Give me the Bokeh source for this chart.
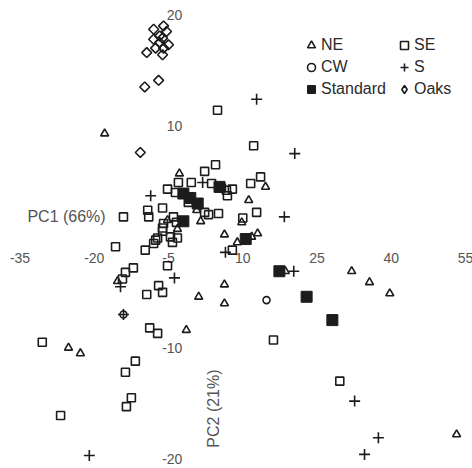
from bokeh.plotting import figure
from bokeh.models import Legend, LegendItem, ColumnDataSource
from bokeh.core.properties import value
from bokeh.embed import file_html
from bokeh.resources import INLINE
import math

# ---- data (PC1, PC2 scores) ----
ne_x = [-17.9, -2.8, 0.7, 1.5, -5.2, -3.2, 6.3, 8.9, 11.8, 13.0, 11.2, 14.6, 9.8,
        18.6, 32.0, 35.6, 39.7, 53.2, 6.3, 6.3, 1.1, -1.4, -15.3, -25.2, -22.8]
ne_y = [9.3, 5.7, 2.4, 1.4, 1.5, 0.7, 0.2, -0.5, 0.0, 0.3, 3.3, 4.5, 1.3,
        -3.1, -3.1, -4.1, -5.1, -17.8, -4.3, -6.0, -5.4, -8.4, -4.0, -10.0, -10.5]

se_x = [4.9, 12.2, 4.5, 2.3, 13.6, -3.0, -0.4, 3.7, 11.6, 6.7, 7.9, 5.7, 6.9,
        -5.2, -3.6, -1.0, 2.3, 3.1, 5.1, 10.0, 12.8, -6.2, -9.2, -9.0, -14.1,
        -4.0, -3.4, -6.0, -6.2, -6.2, -4.6, -3.2, -4.2, -7.6, -8.0, -7.2, -15.7,
        -9.7, 7.9, -5.2, -12.1, -13.7, -14.3, -7.0, -6.2, -9.4, -8.8, -7.2,
        -30.5, -11.7, -13.7, -12.5, -13.5, -26.8, 16.2, 29.6]
se_y = [11.4, 8.2, 6.5, 5.9, 5.4, 4.9, 4.9, 4.8, 4.8, 4.2, 4.3, 4.4, 3.7,
        4.3, 4.0, 3.1, 2.2, 2.0, 2.1, 1.7, 2.2, 2.6, 2.4, 1.8, 1.8,
        1.8, 1.3, 1.2, 0.8, 0.5, 0.0, -0.1, -0.5, -0.3, -0.6, -0.1, -0.9,
        -1.2, -1.2, -2.6, -2.8, -3.2, -3.8, -4.4, -5.0, -5.2, -8.2, -8.7,
        -9.5, -11.2, -12.2, -14.5, -15.3, -16.1, -9.3, -13.0]

cw_x = [14.8, -14.1]
cw_y = [-5.7, -7.0]

s_x = [12.8, 20.5, 18.4, 1.9, -8.6, 6.5, 20.3, -3.8, -14.7, -14.1, 32.6, 37.4, 34.6, -21.0]
s_y = [12.4, 7.5, 1.8, 4.9, 3.7, -1.4, -3.1, -3.7, -4.5, -7.0, -14.8, -18.1, -19.6, -19.7]

std_x = [-2.0, -0.6, 0.9, 5.3, -2.0, 10.6, 17.4, 22.9, 28.1]
std_y = [3.9, 3.5, 3.0, 4.5, 1.4, -0.2, -3.1, -5.4, -7.5]

oak_x = [-6.0, -8.0, -5.4, -6.8, -8.0, -6.2, -6.8, -5.0, -7.6, -6.0, -9.4, -6.2, -7.0, -9.8, -10.7]
oak_y = [19.0, 18.7, 18.5, 18.1, 17.8, 17.9, 17.5, 17.3, 17.0, 17.0, 16.6, 16.4, 14.1, 13.5, 7.6]

x_ticks = [-35, -20, -5, 10, 25, 40, 55]
y_ticks = [20, 10, -10, -20]
x_title = "PC1 (66%)"
y_title = "PC2 (21%)"

INK = "#1c1c1c"
TXT = "#555555"
FONT = "Liberation Sans"

p = figure(width=472, height=468, output_backend="svg", toolbar_location=None,
           x_range=(-38.94, 56.41), y_range=(-20.87, 21.29),
           x_axis_location=None, y_axis_location=None, min_border=0,
           outline_line_color=None, background_fill_color="white",
           border_fill_color="white")
p.grid.visible = False

# tick labels drawn at the (invisible) axes through the origin
xt = ColumnDataSource(dict(x=x_ticks, y=[-1.95] * len(x_ticks), t=[str(v) for v in x_ticks]))
p.text(x="x", y="y", text="t", source=xt, text_align="center", text_baseline="middle",
       text_font=value(FONT), text_font_size="14px", text_color=TXT)
yt = ColumnDataSource(dict(x=[-2.2] * len(y_ticks), y=y_ticks, t=[str(v) for v in y_ticks]))
p.text(x="x", y="y", text="t", source=yt, text_align="right", text_baseline="middle",
       text_font=value(FONT), text_font_size="14px", text_color=TXT)

p.text(x=[-25.6], y=[1.83], text=[x_title], text_align="center", text_baseline="middle",
       text_font=value(FONT), text_font_size="16px", text_color=TXT)
p.text(x=[4.1], y=[-15.47], text=[y_title], angle=math.pi / 2, text_align="center",
       text_baseline="middle", text_font=value(FONT), text_font_size="16px", text_color=TXT)

r_se = p.scatter(se_x, se_y, marker="square", size=8, line_color=INK, line_width=1.6,
                 fill_color="white", fill_alpha=0)
r_ne = p.scatter(ne_x, ne_y, marker="triangle", size=8, line_color=INK, line_width=1.6,
                 fill_color="white", fill_alpha=0)
r_cw = p.scatter(cw_x, cw_y, marker="circle", size=7, line_color=INK, line_width=1.6,
                 fill_color="white", fill_alpha=0)
r_s = p.scatter(s_x, s_y, marker="cross", size=11, line_color=INK, line_width=1.6)
r_std = p.scatter(std_x, std_y, marker="square", size=11, line_color=INK, line_width=1,
                  fill_color=INK)
r_oak = p.scatter(oak_x, oak_y, marker="square", angle=math.pi / 4, size=7, line_color=INK,
                  line_width=1.6, fill_color="white", fill_alpha=0)
# legend proxy for the oaks (legend glyphs ignore marker angle); NaN point is not drawn
r_oak_key = p.scatter(x=[float("nan")], y=[float("nan")], marker="diamond", size=10,
                      line_color=INK, line_width=1.6, fill_color="white", fill_alpha=0)

common = dict(glyph_width=20, glyph_height=22, label_height=22, label_standoff=0,
              spacing=0, padding=0, margin=0, border_line_alpha=0,
              background_fill_alpha=0, label_text_font=FONT,
              label_text_font_size="16px", label_text_color="#2a2a2a")
leg1 = Legend(items=[LegendItem(label="NE", renderers=[r_ne]),
                     LegendItem(label="CW", renderers=[r_cw]),
                     LegendItem(label="Standard", renderers=[r_std])],
              location=(301, 368), **common)
leg2 = Legend(items=[LegendItem(label="SE", renderers=[r_se]),
                     LegendItem(label="S", renderers=[r_s]),
                     LegendItem(label="Oaks", renderers=[r_oak_key])],
              location=(394, 368), **common)
p.add_layout(leg1)
p.add_layout(leg2)

open("out.html", "w").write(file_html(p, INLINE))
